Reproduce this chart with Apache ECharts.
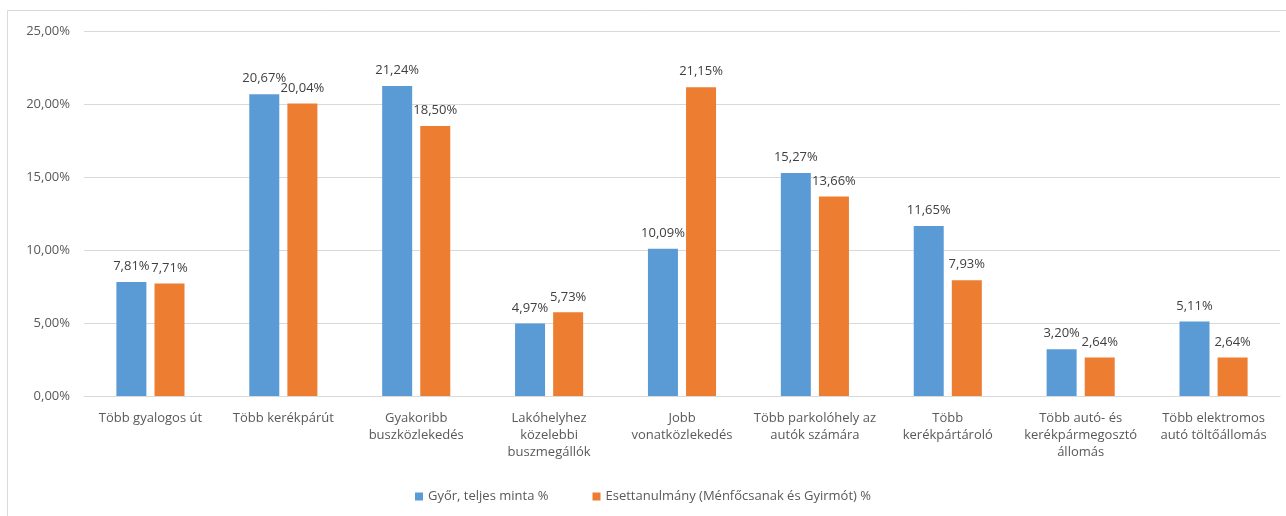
<!DOCTYPE html>
<html><head><meta charset="utf-8">
<script src="https://cdn.jsdelivr.net/npm/echarts@6/dist/echarts.min.js"></script>
<style>html,body{margin:0;padding:0;background:#fff}#c{width:1286px;height:516px}</style>
</head><body><div id="c"></div>
<script>
const categories = [
  "Több gyalogos út",
  "Több kerékpárút",
  "Gyakoribb\nbuszközlekedés",
  "Lakóhelyhez\nközelebbi\nbuszmegállók",
  "Jobb\nvonatközlekedés",
  "Több parkolóhely az\nautók számára",
  "Több\nkerékpártároló",
  "Több autó- és\nkerékpármegosztó\nállomás",
  "Több elektromos\nautó töltőállomás"
];
const seriesNames = ["Győr, teljes minta %", "Esettanulmány (Ménfőcsanak és Gyirmót) %"];
const gyor = [7.81, 20.67, 21.24, 4.97, 10.09, 15.27, 11.65, 3.20, 5.11];
const eset = [7.71, 20.04, 18.50, 5.73, 21.15, 13.66, 7.93, 2.64, 2.64];

const fmt = v => v.toFixed(2).replace('.', ',') + '%';
const font = 'Open Sans';
const fs = 13;
const chart = echarts.init(document.getElementById('c'));
chart.setOption({
  animation: false,
  textStyle: { fontFamily: font },
  graphic: [{ type: 'rect', shape: { x: 7.5, y: 10.5, width: 1290, height: 520 },
    style: { fill: 'none', stroke: '#d9d9d9', lineWidth: 1 }, silent: true }],
  grid: { left: 84, right: 6, top: 31, bottom: 120, containLabel: false },
  legend: {
    top: 485, left: 'center', itemWidth: 8, itemHeight: 8, itemGap: 44,
    icon: 'rect', textStyle: { fontSize: fs, color: '#595959', fontFamily: font },
    data: seriesNames
  },
  xAxis: {
    type: 'category', data: categories,
    axisLine: { lineStyle: { color: '#d9d9d9' } },
    axisTick: { show: false },
    axisLabel: { interval: 0, color: '#595959', fontSize: fs, lineHeight: 17, margin: 14 }
  },
  yAxis: {
    type: 'value', min: 0, max: 25, interval: 5,
    axisLine: { show: false }, axisTick: { show: false },
    splitLine: { lineStyle: { color: '#d9d9d9' } },
    axisLabel: { formatter: fmt, color: '#595959', fontSize: fs, margin: 14 }
  },
  series: [
    { name: seriesNames[0], type: 'bar', data: gyor, barWidth: 30, barGap: '27%',
      itemStyle: { color: '#5B9BD5' },
      label: { show: true, position: 'top', formatter: p => fmt(p.value), color: '#404040', fontSize: fs, distance: 9 } },
    { name: seriesNames[1], type: 'bar', data: eset, barWidth: 30,
      itemStyle: { color: '#ED7D31' },
      label: { show: true, position: 'top', formatter: p => fmt(p.value), color: '#404040', fontSize: fs, distance: 9 } }
  ]
});
</script></body></html>
